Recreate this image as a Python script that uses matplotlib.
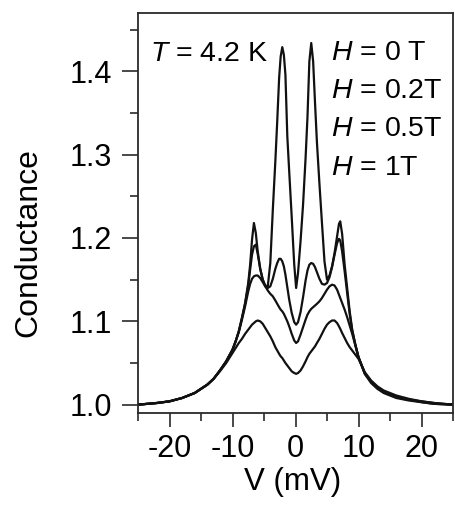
import numpy as np
import matplotlib
matplotlib.use("Agg")
import matplotlib.pyplot as plt
from matplotlib.ticker import MultipleLocator

plt.rcParams['font.family'] = ['Liberation Sans', 'DejaVu Sans']
plt.rcParams['mathtext.fontset'] = 'custom'
plt.rcParams['mathtext.rm'] = 'Liberation Sans'
plt.rcParams['mathtext.it'] = 'Liberation Sans:italic'
plt.rcParams['axes.unicode_minus'] = False

# bias voltage (mV)
v_mv = [-25, -22, -20, -18, -16, -14, -13, -12, -11, -10,
        -9.5, -9, -8.5, -8, -7.5, -7.2, -6.9, -6.6, -6.3, -6.0,
        -5.6, -5.2, -4.8, -4.4, -4.0, -3.6, -3.2, -2.9, -2.6, -2.35,
        -2.1, -1.85, -1.6, -1.3, -1.0, -0.6, -0.2, 0.1, 0.4, 0.8,
        1.2, 1.6, 1.9, 2.2, 2.5, 2.8, 3.1, 3.4, 3.8, 4.2,
        4.6, 5.0, 5.4, 5.8, 6.2, 6.6, 6.9, 7.1, 7.4, 7.8,
        8.2, 8.6, 9.0, 9.5, 10, 11, 12, 13, 14, 16,
        18, 20, 22, 25]

# normalised conductance for each field
g_0T = [1.000, 1.002, 1.004, 1.008, 1.014, 1.024, 1.031, 1.041, 1.052, 1.066,
        1.076, 1.088, 1.104, 1.122, 1.146, 1.168, 1.198, 1.218, 1.206, 1.184,
        1.163, 1.150, 1.143, 1.142, 1.170, 1.234, 1.292, 1.340, 1.392, 1.418,
        1.429, 1.420, 1.396, 1.322, 1.280, 1.225, 1.168, 1.140, 1.158, 1.196,
        1.240, 1.296, 1.345, 1.412, 1.434, 1.412, 1.362, 1.315, 1.265, 1.218,
        1.172, 1.150, 1.155, 1.166, 1.182, 1.202, 1.217, 1.220, 1.205, 1.168,
        1.140, 1.112, 1.090, 1.072, 1.057, 1.037, 1.026, 1.019, 1.014, 1.008,
        1.005, 1.003, 1.001, 1.000]

g_02T = [1.000, 1.002, 1.004, 1.008, 1.014, 1.024, 1.031, 1.041, 1.052, 1.066,
         1.076, 1.088, 1.104, 1.121, 1.143, 1.162, 1.180, 1.190, 1.192, 1.181,
         1.163, 1.150, 1.142, 1.140, 1.142, 1.151, 1.163, 1.170, 1.175, 1.175,
         1.172, 1.166, 1.156, 1.141, 1.126, 1.110, 1.099, 1.096, 1.099, 1.111,
         1.129, 1.149, 1.161, 1.168, 1.170, 1.169, 1.165, 1.159, 1.151, 1.145,
         1.144, 1.146, 1.153, 1.165, 1.180, 1.194, 1.199, 1.197, 1.184, 1.160,
         1.134, 1.109, 1.089, 1.072, 1.057, 1.037, 1.027, 1.020, 1.015, 1.009,
         1.006, 1.003, 1.001, 1.000]

g_05T = [1.000, 1.002, 1.004, 1.008, 1.014, 1.024, 1.031, 1.041, 1.052, 1.066,
         1.076, 1.087, 1.102, 1.118, 1.136, 1.145, 1.151, 1.154, 1.155, 1.155,
         1.152, 1.147, 1.142, 1.137, 1.133, 1.130, 1.125, 1.121, 1.117, 1.114,
         1.112, 1.109, 1.105, 1.100, 1.094, 1.085, 1.077, 1.074, 1.076, 1.084,
         1.093, 1.102, 1.108, 1.112, 1.115, 1.117, 1.119, 1.121, 1.124, 1.128,
         1.133, 1.138, 1.142, 1.144, 1.143, 1.138, 1.132, 1.128, 1.122, 1.114,
         1.105, 1.095, 1.085, 1.071, 1.057, 1.038, 1.028, 1.021, 1.016, 1.010,
         1.006, 1.004, 1.002, 1.000]

g_1T = [1.000, 1.002, 1.004, 1.008, 1.014, 1.024, 1.031, 1.040, 1.050, 1.062,
        1.068, 1.074, 1.079, 1.085, 1.090, 1.093, 1.096, 1.098, 1.100, 1.101,
        1.100, 1.097, 1.092, 1.087, 1.082, 1.076, 1.069, 1.065, 1.061, 1.058,
        1.056, 1.053, 1.050, 1.047, 1.044, 1.040, 1.038, 1.037, 1.038, 1.041,
        1.046, 1.052, 1.057, 1.061, 1.064, 1.067, 1.070, 1.074, 1.079, 1.085,
        1.091, 1.096, 1.099, 1.101, 1.101, 1.098, 1.094, 1.091, 1.086, 1.080,
        1.074, 1.069, 1.065, 1.060, 1.055, 1.039, 1.029, 1.022, 1.017, 1.011,
        1.007, 1.004, 1.002, 1.000]

field_labels = ["0 T", "0.2T", "0.5T", "1T"]

fig = plt.figure(figsize=(4.55, 5.07), dpi=100)
ax = fig.add_axes([138/455, 1 - 413/507, 315/455, 400/507])

for g in [g_0T, g_02T, g_05T, g_1T]:
    ax.plot(v_mv, g, color='#111111', lw=1.6)

ax.set_xlim(-25, 25)
ax.set_ylim(0.990, 1.470)
ax.xaxis.set_major_locator(MultipleLocator(10))
ax.xaxis.set_minor_locator(MultipleLocator(5))
ax.yaxis.set_major_locator(MultipleLocator(0.1))
ax.yaxis.set_minor_locator(MultipleLocator(0.05))
ax.yaxis.set_major_formatter(plt.FuncFormatter(lambda y, p: f"{y:.1f}"))

for s in ax.spines.values():
    s.set_linewidth(1.3)
    s.set_color('#2a2a2a')
ax.tick_params(axis='both', which='both', direction='out', width=1.2,
               color='#2a2a2a', labelsize=22)
ax.tick_params(axis='y', which='major', length=11.5, pad=7)
ax.tick_params(axis='y', which='minor', length=5.8)
ax.tick_params(axis='x', which='major', length=10, pad=5)
ax.tick_params(axis='x', which='minor', length=5.8)

ax.set_ylabel("Conductance", fontsize=23, va='center')
ax.yaxis.set_label_coords(-0.349, 0.425)
ax.set_xlabel("V (mV)", fontsize=22.5, va='center')
ax.xaxis.set_label_coords(0.490, -0.172)

ax.text(0.038, 0.879, "$T$ = 4.2 K", transform=ax.transAxes,
        fontsize=20.5, ha='left', va='baseline')
for i, lab in enumerate(field_labels):
    ax.text(0.612, 0.8825 - i * 0.0955, "$H$ = " + lab, transform=ax.transAxes,
            fontsize=20.5, ha='left', va='baseline')

fig.savefig("out.png", dpi=100)
